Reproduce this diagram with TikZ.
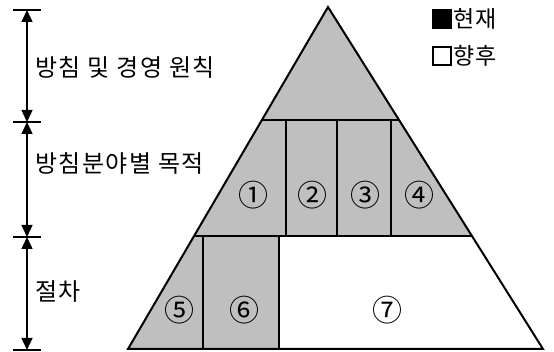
\documentclass[tikz,border=0pt]{standalone}
\usepackage{fontspec}
\setmainfont{Noto Sans CJK KR}
\usetikzlibrary{arrows.meta, positioning, calc}

\begin{document}
\begin{tikzpicture}[
    x=0.5pt, y=-0.5pt,
    >={Triangle[length=6pt, width=5.5pt]},
    font=\fontsize{11.5}{13}\selectfont,
    tier/.style={fill=black!25, draw=none},
    edge/.style={line width=1pt, black},
    dim/.style={<->, line width=0.7pt},
    tick/.style={line width=0.7pt},
    num/.style={inner sep=0pt, font=\fontsize{15}{16}\selectfont},
    lbl/.style={anchor=west, inner sep=0pt, font=\fontsize{12}{13}\selectfont\addfontfeature{LetterSpace=6}},
    key/.style={draw, line width=0.6pt, minimum size=9pt, inner sep=0pt}
  ]
    \useasboundingbox (0,0) rectangle (554,352);
    \coordinate (apex) at (328,7);
    \coordinate (bl) at (128,349);
    \coordinate (br) at (543,349);
    \coordinate (l1) at (262,120);
    \coordinate (r1) at (399,120);
    \coordinate (l2) at (194,236);
    \coordinate (r2) at (472,236);
    \coordinate (m2) at (279,236);
    \coordinate (m3) at (279,349);
    \fill[tier] (apex) -- (r2) -- (m2) -- (m3) -- (bl) -- cycle;
    \draw[edge] (apex) -- (br) -- (bl) -- cycle;
    \draw[edge] (l1) -- (r1);
    \draw[edge] (l2) -- (r2);
    \foreach \x in {286,337,391} \draw[edge] (\x,120) -- (\x,236);
    \foreach \x in {203,279} \draw[edge] (\x,236) -- (\x,349);
    \node[num] (n1) at (254,195) {①};
    \node[num] (n2) at (313,195) {②};
    \node[num] (n3) at (366,195) {③};
    \node[num] (n4) at (420,195) {④};
    \node[num] (n5) at (180,310) {⑤};
    \node[num] (n6) at (245,310) {⑥};
    \node[num] (n7) at (388,310) {⑦};
    \coordinate (d0) at (27,10);
    \coordinate (d1) at (27,122);
    \coordinate (d2) at (27,237);
    \coordinate (d3) at (27,350);
    \foreach \c in {d0,d1,d2,d3} \draw[tick] ([xshift=-7pt]\c) -- ([xshift=7pt]\c);
    \draw[dim] (d0) -- (d1);
    \draw[dim] (d1) -- (d2);
    \draw[dim] (d2) -- (d3);
    \node[lbl] (policy) at (35,67) {방침 및 경영 원칙};
    \node[lbl] (goal) at (35,163) {방침분야별 목적};
    \node[lbl] (proc) at (35,292) {절차};
    \node[key, fill=black] (nowbox) at (442,19) {};
    \node[right=1pt of nowbox, inner sep=0pt] (now) {현재};
    \node[key] (nextbox) at (442,56) {};
    \node[right=1pt of nextbox, inner sep=0pt] (next) {향후};
  \end{tikzpicture}
\end{document}
